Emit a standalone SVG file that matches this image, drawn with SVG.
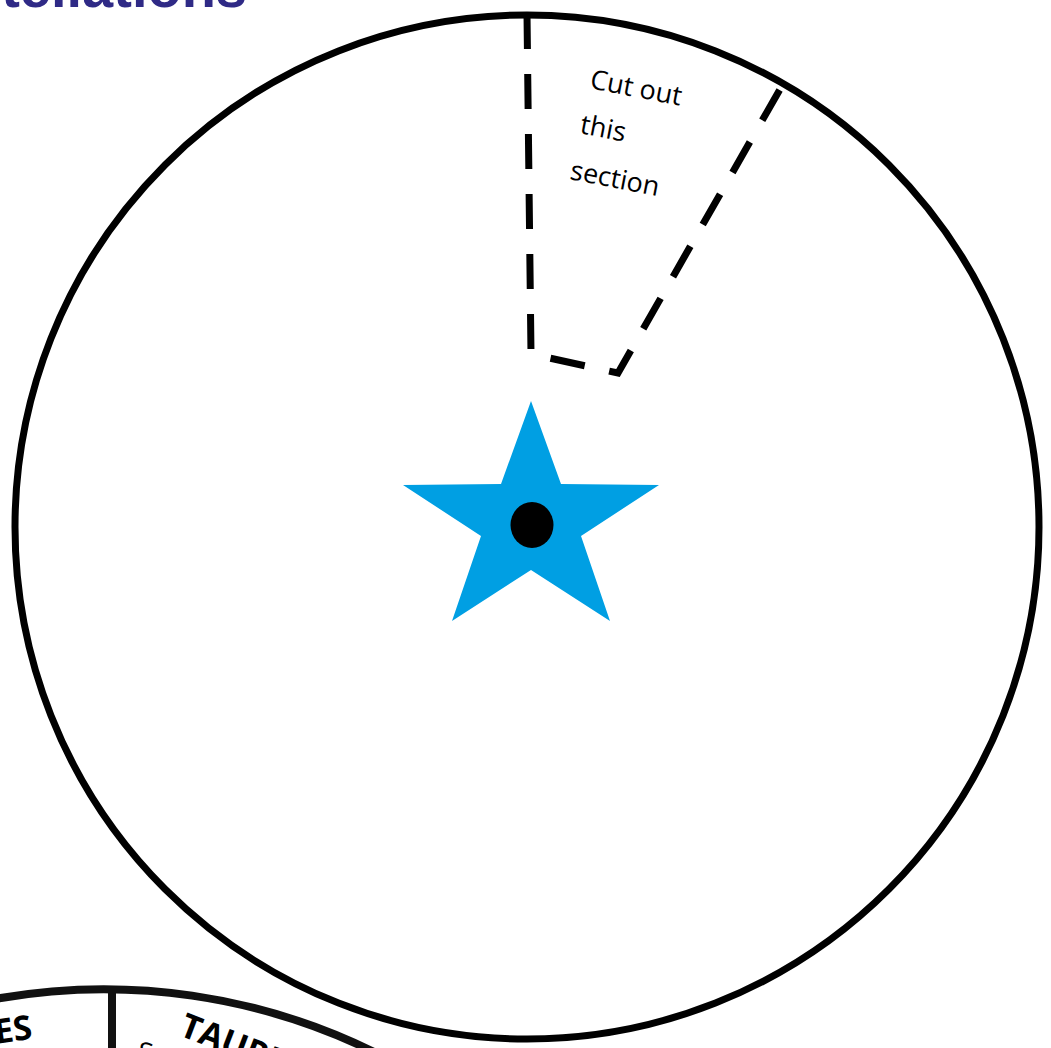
<svg xmlns="http://www.w3.org/2000/svg" width="1051" height="1048" viewBox="0 0 1051 1048">
  <style>
    .title { font-family: "Liberation Sans", Arial, sans-serif; font-weight: bold; fill: #2F2A86; }
    .cut { fill: none; stroke: #000; stroke-width: 7; stroke-dasharray: 35 25; }
    .note { font-family: "Open Sans", "DejaVu Sans", sans-serif; font-size: 27px; fill: #000; }
    .frag { fill: none; stroke: #111; stroke-width: 8; }
    .zod { font-family: "Open Sans", "Liberation Sans", sans-serif; font-weight: bold; font-size: 34px; fill: #000; }
  </style>
  <rect width="1051" height="1048" fill="#fff"/>

  <g id="title">
    <text class="title" x="247" y="7" font-size="56" text-anchor="end">Constellations</text>
  </g>

  <g id="wheel-fragment">
    <path class="frag" d="M -5 999 A 613 613 0 0 1 380 1055"/>
    <line class="frag" x1="112" y1="990" x2="112" y2="1052"/>
    <text class="zod" transform="translate(-4 1044) rotate(-8)">ES</text>
    <text class="zod" transform="translate(178 1035) rotate(21)">TAURUS</text>
    <text class="note" font-size="18" transform="translate(136 1060) rotate(12)">S</text>
  </g>

  <g id="disc">
    <circle cx="527" cy="527" r="512" fill="#fff" stroke="#000" stroke-width="7"/>
  </g>

  <g id="connectors">
    <polyline class="cut" points="527,14 531,354 618,373 783,84"/>
  </g>

  <g id="label">
    <text class="note" transform="translate(589 88) rotate(11)">Cut out</text>
    <text class="note" transform="translate(579 133) rotate(11)">this</text>
    <text class="note" transform="translate(569 179) rotate(11)">section</text>
  </g>

  <g id="star">
    <polygon fill="#009FE3" points="531,401 561,484 659,485 581,536 610,621 531,570 452,621 481,536 403,485 501,484"/>
    <ellipse cx="532" cy="525" rx="21.5" ry="23" fill="#000"/>
  </g>
</svg>
